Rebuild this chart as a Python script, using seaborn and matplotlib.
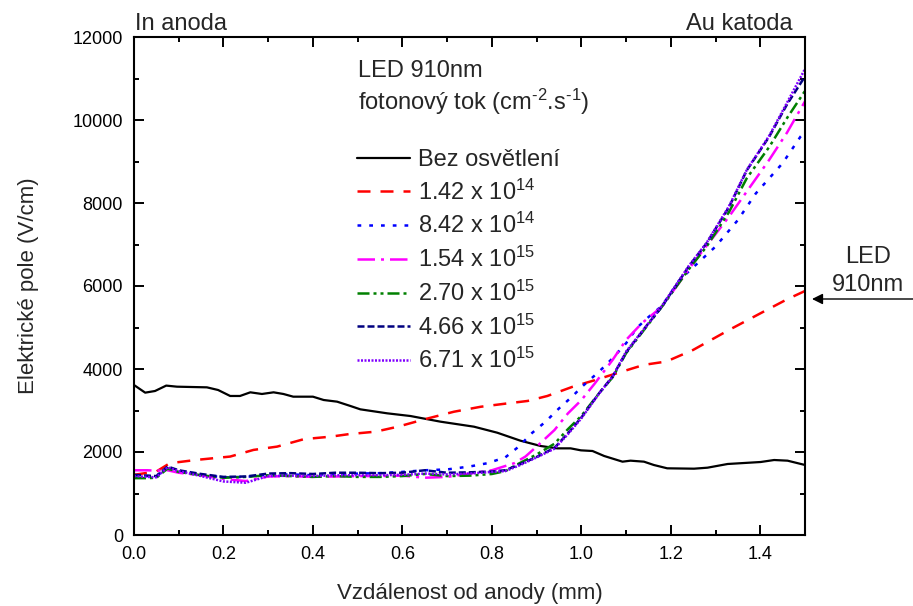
import matplotlib
matplotlib.use("Agg")
import matplotlib.pyplot as plt
from matplotlib.ticker import MultipleLocator
import seaborn as sns

# --- data: electric field profile (V/cm) vs distance from anode (mm) ---
x_dark = [0.0, 0.025, 0.047, 0.072, 0.096, 0.163, 0.188, 0.215, 0.237, 0.26, 0.286,
          0.312, 0.334, 0.356, 0.40, 0.424, 0.454, 0.484, 0.506, 0.566, 0.618, 0.685,
          0.76, 0.812, 0.864, 0.909, 0.946, 0.976, 0.999, 1.025, 1.051, 1.092, 1.11,
          1.14, 1.162, 1.192, 1.252, 1.282, 1.327, 1.401, 1.431, 1.461, 1.5]
y_dark = [3614, 3430, 3470, 3600, 3574, 3558, 3494, 3350, 3350, 3438, 3398,
          3438, 3398, 3333, 3333, 3253, 3213, 3108, 3028, 2932, 2867, 2731,
          2610, 2465, 2272, 2145, 2088, 2088, 2040, 2024, 1904, 1767, 1791,
          1767, 1687, 1607, 1598, 1622, 1711, 1759, 1807, 1791, 1687]

x_142e14 = [0.0, 0.05, 0.08, 0.14, 0.215, 0.267, 0.32, 0.38, 0.44, 0.48, 0.54, 0.59,
            0.65, 0.715, 0.775, 0.834, 0.88, 0.924, 0.98, 1.03, 1.08, 1.14, 1.19,
            1.25, 1.33, 1.40, 1.46, 1.5]
y_142e14 = [1450, 1530, 1730, 1810, 1890, 2050, 2130, 2310, 2370, 2430, 2490, 2610,
            2790, 2970, 3090, 3170, 3230, 3350, 3570, 3730, 3900, 4100, 4180,
            4460, 4940, 5340, 5680, 5880]

x_flat = [0.0, 0.03, 0.05, 0.075, 0.1, 0.15, 0.2, 0.25, 0.3, 0.35, 0.4, 0.45,
          0.5, 0.55, 0.6, 0.65, 0.7]

x_842e14 = x_flat + [0.75, 0.79, 0.83, 0.86, 0.89, 0.92, 0.95, 0.98, 1.0, 1.04,
                     1.07, 1.1, 1.125, 1.15, 1.18, 1.22, 1.3, 1.35, 1.39, 1.45, 1.49, 1.5]
y_842e14 = [1440, 1420, 1430, 1600, 1520, 1450, 1390, 1400, 1450, 1460, 1440, 1460,
            1480, 1490, 1520, 1560, 1580,
            1650, 1730, 1870, 2130, 2460, 2730, 3050, 3340, 3560, 3940,
            4260, 4620, 5000, 5250, 5520, 6150, 6950, 7590, 8230, 8960, 9600, 9700]

x_154e15 = x_flat + [0.75, 0.8, 0.85, 0.875, 0.9, 0.94, 0.97, 1.0, 1.03, 1.07, 1.1,
                     1.135, 1.18, 1.25, 1.33, 1.42, 1.46, 1.5]
y_154e15 = [1560, 1560, 1550, 1560, 1500, 1440, 1350, 1300, 1410, 1420, 1400, 1410,
            1420, 1420, 1430, 1380, 1400,
            1480, 1560, 1730, 1890, 2130, 2530, 2930, 3250, 3650, 4220, 4700,
            5100, 5500, 6550, 7670, 9040, 9700, 10450]

x_rise = [0.75, 0.8, 0.83, 0.86, 0.9, 0.94, 0.97, 1.0, 1.04, 1.07, 1.1, 1.15, 1.18,
          1.24, 1.28, 1.33, 1.37, 1.42, 1.46, 1.5]

x_270e15 = x_flat + x_rise
y_270e15 = [1370, 1370, 1380, 1600, 1520, 1440, 1380, 1400, 1440, 1420, 1400, 1420,
            1400, 1400, 1420, 1470, 1420,
            1430, 1470, 1540, 1720, 1940, 2200, 2550, 2870, 3420, 3800, 4380, 5080,
            5500, 6400, 6950, 7780, 8600, 9350, 10050, 10700]

x_466e15 = x_flat + x_rise
y_466e15 = [1450, 1430, 1420, 1650, 1560, 1470, 1400, 1410, 1480, 1490, 1470, 1500,
            1500, 1490, 1500, 1560, 1500,
            1510, 1530, 1560, 1690, 1880, 2100, 2450, 2830, 3420, 3820, 4400, 5100,
            5500, 6470, 7030, 7900, 8790, 9600, 10380, 11050]

x_671e15 = x_flat + x_rise
y_671e15 = [1420, 1400, 1390, 1630, 1540, 1420, 1290, 1260, 1420, 1430, 1420, 1440,
            1440, 1440, 1450, 1480, 1460,
            1480, 1520, 1540, 1670, 1870, 2080, 2430, 2810, 3410, 3820, 4420, 5100,
            5520, 6480, 7040, 7920, 8800, 9620, 10420, 11230]

labels = ["Bez osvětlení",
          r"1.42 x 10$^{\mathregular{14}}$",
          r"8.42 x 10$^{\mathregular{14}}$",
          r"1.54 x 10$^{\mathregular{15}}$",
          r"2.70 x 10$^{\mathregular{15}}$",
          r"4.66 x 10$^{\mathregular{15}}$",
          r"6.71 x 10$^{\mathregular{15}}$"]

# --- styling ---
sns.set_style("ticks")
plt.rcParams["font.family"] = ["Liberation Sans", "DejaVu Sans"]
plt.rcParams["mathtext.fontset"] = "custom"
plt.rcParams["mathtext.rm"] = "Liberation Sans"
plt.rcParams["mathtext.it"] = "Liberation Sans:italic"
plt.rcParams["mathtext.bf"] = "Liberation Sans:bold"

fig = plt.figure(figsize=(9.13, 6.06), dpi=100)
W, H = 913, 606
L, R, T, B = 134, 805, 37, 535
ax = fig.add_axes([L / W, (H - B) / H, (R - L) / W, (B - T) / H])

series = [
    (x_dark, y_dark, "black", "-", 1.6),
    (x_142e14, y_142e14, "#ff0000", (0, (5.2, 4.0)), 1.8),
    (x_842e14, y_842e14, "#0000ff", (0, (1.5, 3.2)), 1.8),
    (x_154e15, y_154e15, "#ff00ff", (0, (7.0, 2.4, 1.2, 2.4)), 1.8),
    (x_270e15, y_270e15, "#008000", (0, (4.8, 1.6, 1.2, 1.6, 1.2, 1.6)), 1.8),
    (x_466e15, y_466e15, "#000080", (0, (2.8, 1.2)), 1.8),
    (x_671e15, y_671e15, "#8000ff", (0, (0.8, 0.6)), 1.8),
]
for (xs, ys, col, ls, lw), lab in zip(series, labels):
    sns.lineplot(x=xs, y=ys, ax=ax, color=col, linestyle=ls, linewidth=lw,
                 label=lab, sort=False, estimator=None)

ax.set_xlim(0, 1.5)
ax.set_ylim(0, 12000)
ax.xaxis.set_major_locator(MultipleLocator(0.2))
ax.xaxis.set_minor_locator(MultipleLocator(0.1))
ax.yaxis.set_major_locator(MultipleLocator(2000))
ax.yaxis.set_minor_locator(MultipleLocator(1000))
ax.xaxis.set_major_formatter(plt.FormatStrFormatter("%.1f"))
ax.tick_params(which="both", direction="in", top=True, right=True,
               labeltop=False, labelright=False, width=1.4, colors="black",
               labelsize=13)
ax.tick_params(which="major", length=7)
ax.tick_params(which="minor", length=3.6)
ax.tick_params(axis="x", pad=8)
ax.tick_params(axis="y", pad=8)
for s in ax.spines.values():
    s.set_linewidth(1.5)
    s.set_color("black")

ax.set_xlabel("Vzdálenost od anody (mm)", fontsize=16, labelpad=14)
ax.set_ylabel("Elektrické pole (V/cm)", fontsize=16, labelpad=24)

# electrode labels above the frame
ax.text(0.0015, (B - 30) / (B - T), "In anoda", transform=ax.transAxes,
        fontsize=17, ha="left", va="baseline")
ax.text((793 - L) / (R - L), (B - 30) / (B - T), "Au katoda", transform=ax.transAxes,
        fontsize=17, ha="right", va="baseline")

# legend heading
ax.text((358 - L) / (R - L), (B - 77) / (B - T), "LED 910nm", transform=ax.transAxes,
        fontsize=17, ha="left", va="baseline")
ax.text((358 - L) / (R - L), (B - 110) / (B - T),
        "fotonový tok (cm$^{\\mathregular{\u20102}}$.s$^{\\mathregular{\u20101}}$)",
        transform=ax.transAxes, fontsize=17, ha="left", va="baseline")

ax.legend(loc="upper left", bbox_to_anchor=((357 - L) / (R - L), (B - 149) / (B - T)),
          frameon=False, fontsize=17, handlelength=2.25, handletextpad=0.35,
          labelspacing=0.36, borderpad=0, borderaxespad=0)

# illumination side marker
fig.text(868 / W, (H - 263) / H, "LED", fontsize=17, ha="center", va="baseline")
fig.text(868 / W, (H - 291) / H, "910nm", fontsize=17, ha="center", va="baseline")
ax.annotate("", xy=(812, H - 299), xycoords="figure pixels",
            xytext=(913, H - 299), textcoords="figure pixels",
            arrowprops=dict(arrowstyle="-|>", color="black", lw=1.0,
                            mutation_scale=16, shrinkA=0, shrinkB=0))

fig.savefig("out.png", dpi=100)
